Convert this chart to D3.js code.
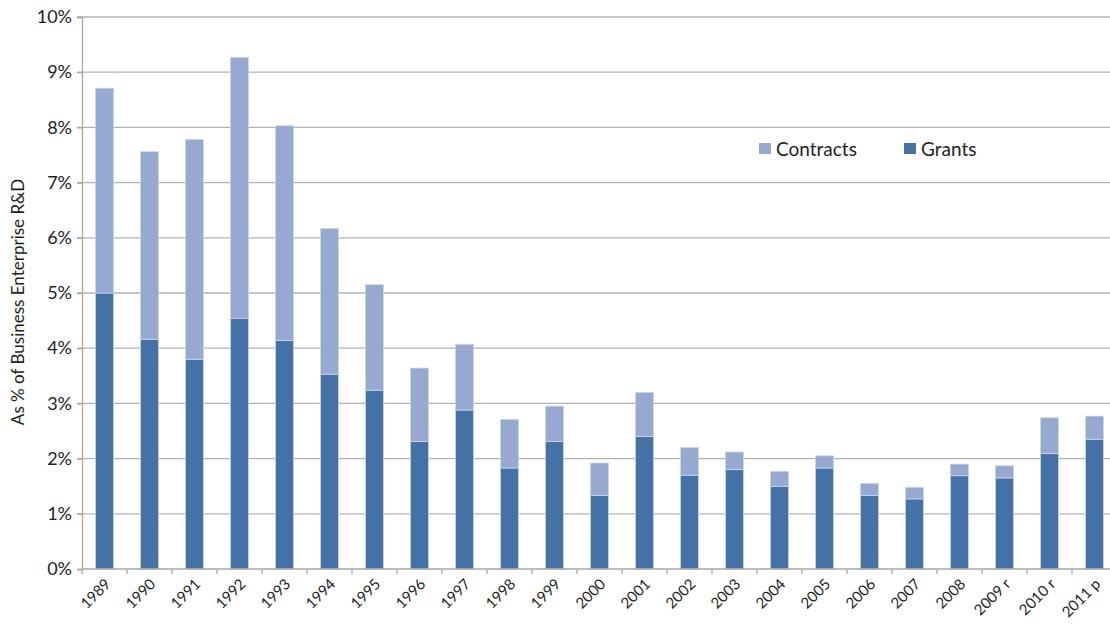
<!DOCTYPE html>
<html>
<head>
<meta charset="utf-8">
<script src="https://cdn.jsdelivr.net/npm/d3@7"></script>
<style>
  body { margin: 0; background: #fff; }
  svg text { font-family: Lato, "Open Sans", sans-serif; fill: #1e1e1e; }
</style>
</head>
<body>
<svg width="1110" height="626"></svg>
<script>
var years = ["1989", "1990", "1991", "1992", "1993", "1994", "1995", "1996", "1997", "1998", "1999", "2000",
  "2001", "2002", "2003", "2004", "2005", "2006", "2007", "2008", "2009 r", "2010 r", "2011 p"];
// percent of business enterprise R&D
var grants = [5.00, 4.16, 3.80, 4.54, 4.14, 3.53, 3.24, 2.31, 2.88, 1.83, 2.31, 1.33,
  2.40, 1.70, 1.80, 1.50, 1.83, 1.33, 1.27, 1.69, 1.65, 2.09, 2.35];
var totals = [8.71, 7.56, 7.78, 9.27, 8.03, 6.17, 5.15, 3.64, 4.07, 2.71, 2.95, 1.92,
  3.20, 2.20, 2.12, 1.77, 2.05, 1.55, 1.48, 1.90, 1.87, 2.74, 2.77];
var yTicks = [0, 1, 2, 3, 4, 5, 6, 7, 8, 9, 10];

var svg = d3.select("svg");
var margin = {top: 17, left: 82, bottom: 57};
var plotW = 1035, plotH = 626 - margin.top - margin.bottom;

var x = d3.scaleBand().domain(years).range([0, plotW]).paddingInner(0.6).paddingOuter(0.3);
var y = d3.scaleLinear().domain([0, 10]).range([plotH, 0]);

var g = svg.append("g").attr("transform", "translate(" + margin.left + "," + margin.top + ")");

// gridlines
g.append("g")
  .selectAll("line")
  .data(yTicks.slice(1))
  .enter()
  .append("line")
  .attr("x1", -5).attr("x2", plotW)
  .attr("y1", d => y(d)).attr("y2", d => y(d))
  .attr("stroke", "#b3b3b3").attr("stroke-width", 1.3);

// y axis
var yAxis = g.append("g")
  .call(d3.axisLeft(y).tickValues(yTicks).tickSize(5).tickPadding(5).tickFormat(d => d + "%"));
yAxis.select(".domain").attr("stroke", "#a6a6a6").attr("stroke-width", 1.3);
yAxis.selectAll(".tick line").attr("stroke", "#a6a6a6").attr("stroke-width", 1.3);
yAxis.selectAll("text").style("font-size", "18px").attr("fill", "#1e1e1e");

var series = years.map(function (yr, i) {
  return {year: yr, grants: grants[i], contracts: totals[i] - grants[i]};
});
var stack = d3.stack().keys(["grants", "contracts"])(series);
var colors = {grants: "#4472a6", contracts: "#95a9d1"};

g.append("g")
  .selectAll("g")
  .data(stack)
  .enter()
  .append("g")
  .attr("fill", d => colors[d.key])
  .selectAll("rect")
  .data(d => d)
  .enter()
  .append("rect")
  .attr("x", d => x(d.data.year))
  .attr("width", x.bandwidth())
  .attr("y", d => y(d[1]))
  .attr("height", d => y(d[0]) - y(d[1]))
  .attr("stroke", "#c9d5ea")
  .attr("stroke-width", 0.8);

// x axis with ticks between categories
var xg = g.append("g").attr("transform", "translate(0," + plotH + ")");
xg.append("line").attr("x1", 0).attr("x2", plotW).attr("stroke", "#a6a6a6").attr("stroke-width", 1.3);
xg.selectAll("line.tk")
  .data(d3.range(years.length + 1))
  .enter()
  .append("line")
  .attr("class", "tk")
  .attr("x1", i => i * x.step()).attr("x2", i => i * x.step())
  .attr("y1", 0).attr("y2", 5)
  .attr("stroke", "#a6a6a6").attr("stroke-width", 1.3);
xg.selectAll("text")
  .data(years)
  .enter()
  .append("text")
  .attr("text-anchor", "end")
  .attr("transform", d => "translate(" + (x(d) + x.bandwidth() / 2 + 7) + ",16) rotate(-45)")
  .style("font-size", "15px")
  .text(d => d);

// y title
svg.append("text")
  .attr("transform", "translate(24,302) rotate(-90)")
  .attr("text-anchor", "middle")
  .style("font-size", "17px")
  .text("As % of Business Enterprise R&D");

// legend
var legend = [{name: "Contracts", key: "contracts", x: 759}, {name: "Grants", key: "grants", x: 904}];
var lg = svg.append("g").selectAll("g").data(legend).enter().append("g")
  .attr("transform", d => "translate(" + d.x + ",143)");
lg.append("rect").attr("width", 12).attr("height", 11).attr("fill", d => colors[d.key]);
lg.append("text").attr("x", 17).attr("y", 12.5).style("font-size", "19px").text(d => d.name);
</script>
</body>
</html>
